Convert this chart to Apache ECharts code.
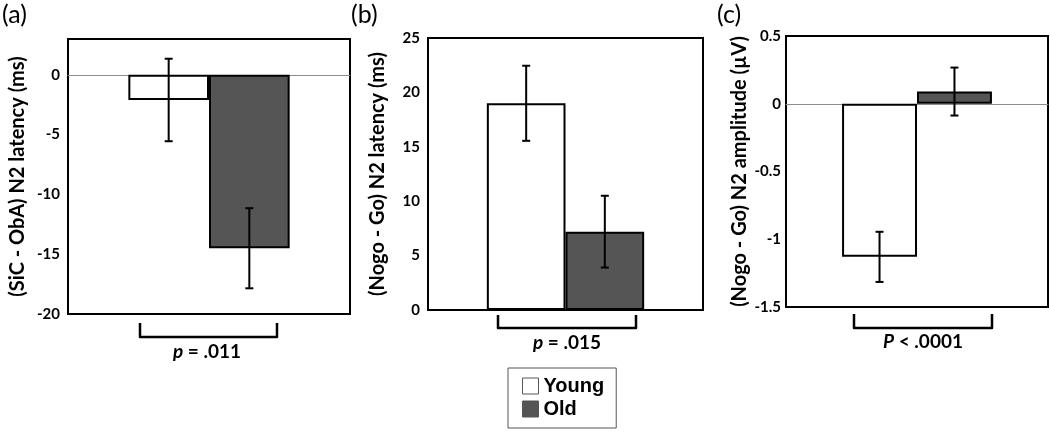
<!DOCTYPE html>
<html>
<head>
<meta charset="utf-8">
<script src="https://cdn.jsdelivr.net/npm/echarts@6/dist/echarts.min.js"></script>
<style>
html,body{margin:0;padding:0;background:#fff;}
#c{width:1050px;height:432px;}
</style>
</head>
<body>
<div id="c"></div>
<script>
// ---- data ----
const groups = ['Young', 'Old'];
const category = ['N2'];
// (a) SiC - ObA N2 latency (ms)
const latencyA_mean = [-2.1, -14.5];
const latencyA_err = [3.45, 3.35];
const ticksA = [0, -5, -10, -15, -20];
// (b) Nogo - Go N2 latency (ms)
const latencyB_mean = [19.0, 7.2];
const latencyB_err = [3.45, 3.3];
const ticksB = [0, 5, 10, 15, 20, 25];
// (c) Nogo - Go N2 amplitude (µV)
const ampC_mean = [-1.13, 0.09];
const ampC_err = [0.185, 0.177];
const ticksC = [0.5, 0, -0.5, -1, -1.5];
const pTexts = ['.011', '.015', '.0001'];
const axisTitles = ['(SiC - ObA) N2 latency (ms)', '(Nogo - Go) N2 latency (ms)', '(Nogo - Go) N2 amplitude (\u00B5V)'];
const panelLabels = ['(a)', '(b)', '(c)'];

const FONT = 'Lato';
const fills = ['#ffffff', '#555555'];
const BARW = 0.286;

const grids = [
  {left: 68, right: 700, top: 39, bottom: 118},
  {left: 428, right: 347, top: 38, bottom: 122},
  {left: 786, right: 2, top: 36, bottom: 125}
];
const yRanges = [
  {min: -20, max: 3, interval: 5, ticks: ticksA, gap: 40},
  {min: 0, max: 25, interval: 5, ticks: ticksB, gap: 40},
  {min: -1.5, max: 0.5, interval: 0.5, ticks: ticksC, gap: 36}
];
const means = [latencyA_mean, latencyB_mean, ampC_mean];
const errs = [latencyA_err, latencyB_err, ampC_err];

const xAxes = [], yAxes = [], series = [];
grids.forEach((g, i) => {
  xAxes.push({
    type: 'category', gridIndex: i, data: category,
    axisLabel: {show: false}, axisTick: {show: false},
    axisLine: {show: i !== 1, onZero: true, lineStyle: {color: '#8c8c8c', width: 1}},
    splitLine: {show: false}
  });
  const r = yRanges[i];
  yAxes.push({
    type: 'value', gridIndex: i, min: r.min, max: r.max, interval: r.interval,
    axisLine: {show: false}, axisTick: {show: false}, splitLine: {show: false},
    axisLabel: {
      color: '#000', fontFamily: FONT, fontWeight: 'bold', fontSize: 15,
      margin: i === 2 ? 5 : 8,
      showMaxLabel: true,
      formatter: v => r.ticks.some(t => Math.abs(t - v) < 1e-9) ? String(v) : ''
    },
    name: axisTitles[i], nameLocation: 'middle', nameGap: r.gap,
    nameTextStyle: {color: '#000', fontFamily: FONT, fontWeight: 'bold', fontSize: 20}
  });
  groups.forEach((name, k) => {
    series.push({
      type: 'bar', name: name, xAxisIndex: i, yAxisIndex: i,
      data: [means[i][k]],
      barWidth: (BARW * 100) + '%', barGap: '0%',
      itemStyle: {color: fills[k], borderColor: '#000', borderWidth: 2},
      emphasis: {disabled: true}, z: 2
    });
  });
  series.push({
    type: 'custom', xAxisIndex: i, yAxisIndex: i, z: 5, silent: true,
    data: groups.map((n, k) => [0, means[i][k], errs[i][k], k === 0 ? -1 : 1]),
    encode: {x: 0, y: 1},
    renderItem: function (params, api) {
      const v = api.value(1), e = api.value(2), side = api.value(3);
      const band = api.size([1, 0])[0];
      const c = api.coord([0, v]);
      const x = c[0] + side * band * BARW / 2;
      const yt = api.coord([0, v + e])[1];
      const yb = api.coord([0, v - e])[1];
      const cap = 4;
      const st = {stroke: '#000', lineWidth: 2};
      return {type: 'group', children: [
        {type: 'line', shape: {x1: x, y1: yt, x2: x, y2: yb}, style: st},
        {type: 'line', shape: {x1: x - cap, y1: yt, x2: x + cap, y2: yt}, style: st},
        {type: 'line', shape: {x1: x - cap, y1: yb, x2: x + cap, y2: yb}, style: st}
      ]};
    }
  });
});

const brackets = [
  {x1: 140, x2: 277, y1: 323, y2: 337, tx: 207, ty: 352, sym: 'p', op: '='},
  {x1: 498, x2: 636, y1: 315, y2: 328, tx: 567, ty: 343, sym: 'p', op: '='},
  {x1: 854, x2: 992, y1: 314, y2: 328, tx: 923, ty: 342, sym: 'P', op: '<'}
];
const graphics = [];
brackets.forEach((b, i) => {
  graphics.push({
    type: 'polyline', silent: true,
    shape: {points: [[b.x1, b.y1], [b.x1, b.y2], [b.x2, b.y2], [b.x2, b.y1]]},
    style: {stroke: '#000', lineWidth: 2.5, fill: null, lineJoin: 'round'}
  });
  graphics.push({
    type: 'text', silent: true, x: b.tx, y: b.ty,
    style: {
      text: '{i|' + b.sym + '}{n| ' + b.op + ' ' + pTexts[i] + '}',
      align: 'center', verticalAlign: 'middle',
      rich: {
        i: {fontFamily: FONT, fontWeight: 'bold', fontStyle: 'italic', fontSize: 19, fill: '#000'},
        n: {fontFamily: FONT, fontWeight: 'bold', fontSize: 19, fill: '#000'}
      }
    }
  });
});
const labelPos = [[2, 15], [351, 15], [717, 15]];
panelLabels.forEach((t, i) => {
  graphics.push({
    type: 'text', silent: true, x: labelPos[i][0], y: labelPos[i][1],
    style: {text: t, fontFamily: FONT, fontSize: 25, fill: '#000', verticalAlign: 'middle'}
  });
});

const chart = echarts.init(document.getElementById('c'), null, {renderer: 'canvas'});
chart.setOption({
  animation: false,
  backgroundColor: '#fff',
  grid: grids.map(g => Object.assign({show: true, borderColor: '#000', borderWidth: 2, backgroundColor: 'transparent', containLabel: false}, g)),
  xAxis: xAxes,
  yAxis: yAxes,
  legend: {
    data: groups, orient: 'vertical', left: 508, top: 368,
    padding: [8, 12, 9, 14], itemGap: 3, itemWidth: 16, itemHeight: 16,
    borderColor: '#555', borderWidth: 1, icon: 'rect', selectedMode: false,
    itemStyle: {borderColor: '#555', borderWidth: 1},
    textStyle: {fontFamily: 'Liberation Sans', fontWeight: 'bold', fontSize: 20, color: '#000', lineHeight: 20}
  },
  graphic: graphics,
  series: series
});
</script>
</body>
</html>
